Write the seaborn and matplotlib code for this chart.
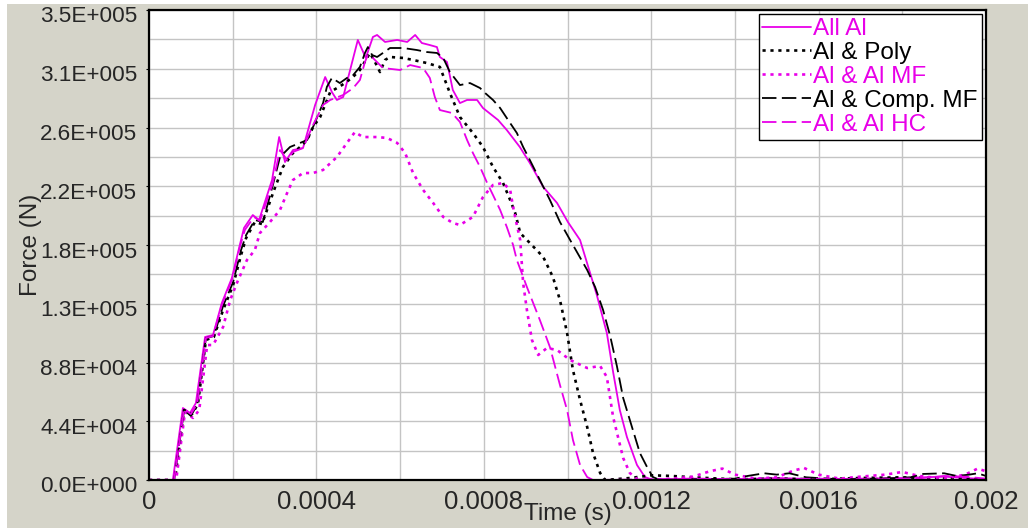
import matplotlib
matplotlib.use("Agg")
import matplotlib.pyplot as plt
import matplotlib.transforms as mtransforms
from matplotlib.patches import Rectangle
import seaborn as sns
import pandas as pd

# ---------------- data (time in microseconds, force in kN) ----------------
series_names = ["All Al", "Al & Poly", "Al & Al MF", "Al & Comp. MF", "Al & Al HC"]

all_al_t_us = [0, 57, 81, 98, 112, 134, 153, 174, 198, 217, 227, 248, 263, 294, 311, 325, 344, 368,
               397, 421, 437, 449, 464, 499, 518, 535, 545, 564, 593, 617, 636, 652, 671, 688, 695,
               712, 726, 743, 760, 784, 798, 834, 855, 886, 910, 942, 975, 1001, 1030, 1070, 1094,
               1109, 1125, 1142, 1166, 1185, 1204, 1230, 1300, 1400, 1500, 1600, 1700, 1800, 1900,
               1950, 2000]
all_al_kN = [0, 0, 53.6, 49.9, 57.3, 106.5, 108.0, 131.8, 150.4, 175.0, 187.7, 197.3, 193.6, 223.4,
             255.4, 236.8, 245.7, 247.2, 279.3, 300.1, 288.9, 283.0, 285.2, 327.7, 314.3, 329.9, 331.4,
             326.2, 327.7, 326.2, 331.4, 325.4, 323.9, 322.4, 315.0, 311.3, 290.4, 280.7, 283.0, 283.0,
             277.0, 268.1, 260.6, 248.0, 236.1, 218.2, 206.3, 192.1, 178.7, 137.8, 109.5, 80.4, 52.1,
             32.0, 11.2, 2.2, 0, 0.5, 1.0, 0.5, 1.5, 0.5, 1.0, 1.5, 2.5, 1.5, 0.5]

poly_t_us = [0, 62, 84, 103, 117, 136, 155, 177, 201, 220, 232, 253, 270, 299, 320, 344, 361, 378,
             392, 409, 433, 461, 485, 504, 521, 528, 540, 552, 564, 576, 607, 631, 664, 695, 719, 743,
             774, 798, 822, 846, 863, 875, 887, 910, 942, 965, 982, 999, 1013, 1030, 1047, 1061, 1078,
             1090, 1150, 1200, 1250, 1300, 1400, 1500, 1600, 1700, 1800, 1900, 2000]
poly_kN = [0, 0, 52.1, 49.1, 56.6, 104.3, 106.5, 126.6, 145.2, 167.6, 180.2, 192.1, 190.6, 216.0,
           233.1, 243.5, 248.0, 253.2, 262.9, 270.3, 288.9, 294.1, 299.4, 305.3, 314.3, 318.0, 311.3,
           303.8, 312.8, 315.0, 314.3, 312.8, 310.5, 307.6, 288.2, 270.3, 258.4, 248.0, 233.1, 221.2,
           208.5, 198.8, 183.9, 176.5, 166.1, 151.2, 134.0, 109.5, 81.9, 59.6, 39.5, 20.1, 5.2, 0,
           1.5, 3.5, 3.0, 2.0, 0.5, 1.0, 0.5, 1.5, 2.0, 1.0, 0.5]

al_mf_t_us = [0, 65, 86, 105, 120, 139, 153, 177, 194, 210, 234, 253, 265, 289, 313, 330, 344, 368,
              392, 416, 449, 473, 492, 511, 545, 569, 593, 612, 631, 655, 679, 703, 726, 743, 774, 798,
              822, 846, 863, 870, 879, 887, 894, 903, 915, 930, 951, 975, 1006, 1047, 1078, 1094, 1109,
              1133, 1149, 1166, 1185, 1250, 1300, 1340, 1370, 1400, 1450, 1500, 1540, 1565, 1600, 1650,
              1700, 1760, 1800, 1840, 1900, 1950, 1980, 2000]
al_mf_kN = [0, 0, 50.6, 46.2, 52.1, 100.5, 100.5, 113.9, 134.0, 146.7, 163.8, 171.3, 183.9, 192.1,
            201.1, 213.7, 223.4, 228.6, 228.6, 230.9, 240.5, 251.0, 259.1, 255.4, 255.4, 254.7, 251.0,
            243.5, 228.6, 216.0, 206.3, 195.9, 191.4, 189.9, 195.9, 210.7, 219.7, 221.2, 216.0, 203.3,
            189.9, 178.7, 146.7, 126.6, 104.3, 93.1, 98.3, 96.8, 89.4, 83.4, 84.9, 76.7, 46.9, 16.4,
            5.2, 0.7, 0, 1.0, 2.5, 6.5, 8.5, 4.0, 1.0, 2.0, 7.0, 9.0, 4.0, 1.0, 2.5, 4.0, 6.0, 3.0,
            1.0, 4.0, 8.5, 6.5]

comp_mf_t_us = [0, 60, 84, 100, 115, 136, 155, 177, 201, 220, 232, 253, 272, 296, 313, 337, 361, 378,
                392, 416, 425, 437, 456, 473, 488, 504, 516, 523, 533, 545, 559, 576, 607, 640, 664,
                688, 703, 719, 743, 767, 791, 803, 822, 839, 858, 879, 894, 910, 934, 958, 982, 1013,
                1047, 1066, 1085, 1102, 1118, 1133, 1154, 1173, 1190, 1204, 1221, 1300, 1400, 1430,
                1470, 1500, 1530, 1570, 1650, 1750, 1820, 1850, 1900, 1930, 1960, 1980, 2000]
comp_mf_kN = [0, 0, 52.1, 47.7, 55.9, 105.7, 107.2, 129.6, 147.4, 171.3, 182.4, 193.6, 192.1, 219.7,
              240.5, 248.0, 251.0, 253.2, 262.9, 280.7, 292.7, 299.4, 295.6, 299.4, 301.6, 307.6,
              318.0, 322.4, 316.5, 315.0, 318.0, 321.7, 321.7, 320.2, 318.7, 318.0, 314.3, 303.8,
              294.1, 295.6, 291.9, 288.2, 283.0, 277.0, 268.1, 258.4, 248.0, 238.3, 223.4, 208.5,
              192.1, 175.0, 156.4, 143.7, 126.6, 107.2, 84.9, 61.1, 39.5, 20.1, 9.7, 2.2, 0, 0.5, 1.0,
              3.0, 5.0, 4.0, 5.0, 2.0, 0.5, 1.0, 2.0, 4.5, 5.0, 3.0, 4.0, 5.0, 3.0]

al_hc_t_us = [0, 60, 84, 100, 115, 136, 153, 174, 198, 217, 229, 251, 265, 296, 313, 330, 344, 368,
              392, 416, 433, 464, 488, 504, 516, 523, 535, 559, 600, 624, 655, 671, 683, 695, 724, 743,
              760, 774, 791, 808, 822, 839, 855, 870, 879, 903, 934, 958, 982, 999, 1013, 1030, 1047,
              1061, 1200, 1300, 1450, 1600, 1750, 1850, 1900, 1950, 2000]
al_hc_kN = [0, 0, 52.9, 49.1, 56.6, 105.7, 107.2, 130.3, 148.9, 173.5, 186.2, 195.9, 192.9, 221.2,
            245.7, 238.3, 244.3, 247.2, 264.4, 279.3, 283.0, 286.7, 291.9, 297.9, 311.3, 316.5, 314.3,
            306.8, 305.3, 309.0, 306.8, 299.4, 285.2, 275.5, 273.3, 266.6, 253.2, 243.5, 233.1, 221.2,
            212.2, 201.1, 188.4, 175.0, 163.8, 143.7, 119.1, 99.0, 70.7, 52.1, 29.8, 11.2, 2.2, 0,
            0.5, 1.0, 0.5, 1.0, 0.5, 1.5, 3.0, 2.5, 1.0]

x_ticks = [0, 0.0004, 0.0008, 0.0012, 0.0016, 0.002]
x_tick_labels = ["0", "0.0004", "0.0008", "0.0012", "0.0016", "0.002"]
y_ticks = [0, 43750, 87500, 131250, 175000, 218750, 262500, 306250, 350000]
y_tick_labels = ["0.0E+000", "4.4E+004", "8.8E+004", "1.3E+005", "1.8E+005",
                 "2.2E+005", "2.6E+005", "3.1E+005", "3.5E+005"]

# ---------------- style ----------------
sns.set_style("white")
plt.rcParams["font.family"] = ["Liberation Sans", "DejaVu Sans"]

MAG = "#e800e8"
BLK = "#000000"
styles = {
    "All Al":        dict(color=MAG, linestyle="-", lw=1.3),
    "Al & Poly":     dict(color=BLK, linestyle=(0, (1.2, 1.8)), lw=1.9),
    "Al & Al MF":    dict(color=MAG, linestyle=(0, (1.2, 1.8)), lw=1.9),
    "Al & Comp. MF": dict(color=BLK, linestyle=(0, (8, 3)), lw=1.3),
    "Al & Al HC":    dict(color=MAG, linestyle=(0, (8, 3)), lw=1.3),
}
data = {
    "All Al": (all_al_t_us, all_al_kN),
    "Al & Poly": (poly_t_us, poly_kN),
    "Al & Al MF": (al_mf_t_us, al_mf_kN),
    "Al & Comp. MF": (comp_mf_t_us, comp_mf_kN),
    "Al & Al HC": (al_hc_t_us, al_hc_kN),
}

W, H = 1028, 532
fig = plt.figure(figsize=(W / 100, H / 100), dpi=100, facecolor="white")
fig.add_artist(Rectangle((7 / W, 4 / H), (W - 7) / W, (528 - 4) / H,
                         transform=fig.transFigure, facecolor="#d5d4c9",
                         edgecolor="none", zorder=-10))
ax = fig.add_axes([149 / W, (H - 480) / H, (986 - 149) / W, (480 - 10) / H])
ax.set_facecolor("white")

for name in series_names:
    t_us, f_kn = data[name]
    df = pd.DataFrame({"Time (s)": [v * 1e-6 for v in t_us],
                       "Force (N)": [v * 1e3 for v in f_kn]})
    st = styles[name]
    sns.lineplot(data=df, x="Time (s)", y="Force (N)", ax=ax, label=name,
                 estimator=None, sort=False, color=st["color"],
                 linestyle=st["linestyle"], linewidth=st["lw"])

ax.set_xlim(0, 0.002)
ax.set_ylim(0, 350000)
ax.set_xticks(x_ticks)
ax.set_xticklabels(x_tick_labels)
ax.set_xticks([0.0002, 0.0006, 0.0010, 0.0014, 0.0018], minor=True)
ax.set_yticks(y_ticks)
ax.set_yticklabels(y_tick_labels)
ax.set_yticks([y + 21875 for y in y_ticks[:-1]], minor=True)
ax.grid(which="both", color="#c4c4c4", linewidth=1.0)
ax.set_axisbelow(True)

ax.tick_params(axis="y", which="major", labelsize=16.2, length=2.5, width=0.8,
               color="black", direction="out", pad=6, left=True)
ax.tick_params(axis="x", which="major", labelsize=18.5, length=0, pad=7.5)
ax.tick_params(which="minor", length=0)

offset = mtransforms.ScaledTranslation(0, -0.045, fig.dpi_scale_trans)
for lab in ax.get_yticklabels():
    lab.set_transform(lab.get_transform() + offset)

for sp in ax.spines.values():
    sp.set_visible(True)
    sp.set_color("black")
    sp.set_linewidth(1.6)

ax.set_xlabel("Time (s)", fontsize=17.5, labelpad=0)
ax.set_ylabel("Force (N)", fontsize=17.5, labelpad=0)
ax.xaxis.set_label_coords(0.5, -0.048)
ax.yaxis.set_label_coords(-0.128, 0.5)

leg = ax.legend(loc="upper right", fontsize=17.5, frameon=True, fancybox=False,
                framealpha=1, edgecolor="black", borderpad=0.15, labelspacing=0.08,
                handlelength=2.0, handletextpad=0.1, borderaxespad=0.18)
leg.get_frame().set_linewidth(1.0)
for txt, name in zip(leg.get_texts(), series_names):
    txt.set_color(styles[name]["color"])

fig.savefig("out.png", dpi=100, facecolor=fig.get_facecolor())
